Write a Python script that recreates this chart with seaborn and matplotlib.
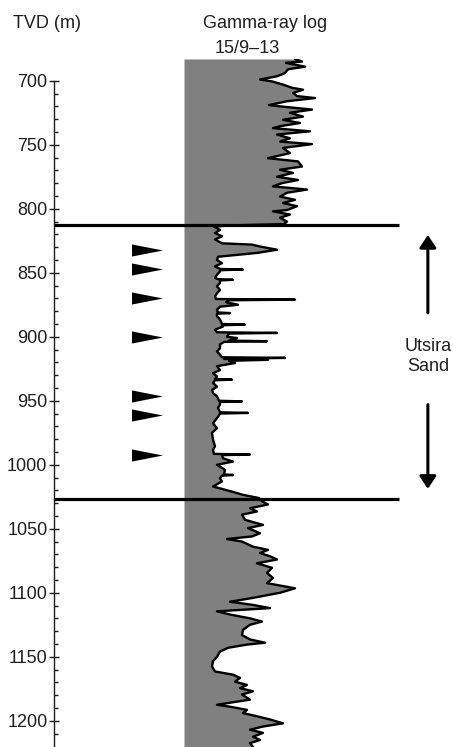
import numpy as np
import pandas as pd
import matplotlib
matplotlib.use("Agg")
import matplotlib.pyplot as plt
import seaborn as sns
from matplotlib.ticker import FixedLocator

# Gamma-ray log of well 15/9-13: true vertical depth (m) and gamma ray (API)
depth_upper = [683, 685, 686, 689, 691, 694, 696.5, 699, 700.5, 703, 705.5, 707,
               709.5, 712, 713.5, 716, 719, 720, 722.5, 725, 728, 730.5, 733, 735.5,
               737, 739.5, 742, 745, 747.5, 749.5, 752.5, 756.5, 760.5, 763, 767,
               769.5, 772, 775, 777.5, 780, 782.5, 785, 787.5, 790.5, 793, 795.5,
               798, 801, 802, 804.5, 807, 810, 812]
gamma_upper = [111, 118, 102, 121, 104, 101, 93, 76, 88, 99, 108, 119,
               109, 113, 131, 103, 85, 96, 128, 106, 119, 99, 116, 96,
               89, 126, 93, 106, 96, 128, 99, 106, 84, 114, 118,
               96, 109, 93, 114, 98, 89, 123, 103, 96, 111, 99,
               113, 103, 89, 106, 96, 103, 100]

depth_sand = [813, 814, 816.5, 819, 821.5, 824, 827, 828, 829.5, 831, 832, 833.5,
              834.5, 836, 837.5, 840, 842.5, 845, 847, 847.5, 848, 849, 851.5, 854,
              855, 855.5, 856, 858, 860.5, 863.5, 866, 868.5, 870.5, 871, 871.5,
              873, 875, 876.5, 879, 881, 881.5, 882, 884, 886.5, 890, 890.5, 891,
              892, 894.5, 896.5, 897, 897.5, 900, 901, 903, 903.5, 904, 906, 909,
              911.5, 914, 916, 916.5, 917.3, 918, 918.8, 920.5, 923, 926, 928.5, 931,
              933, 933.5, 934, 936, 939, 941.5, 944, 946.5, 950, 950.5, 951, 953,
              955.5, 959, 959.5, 960, 962.5, 967.5, 971.5, 975, 980.5, 985.5, 988.5,
              991.5, 992, 992.5, 995, 997.5, 1000, 1004, 1007.5, 1008, 1008.5, 1010.5,
              1013, 1017, 1021, 1023.5, 1026]
gamma_sand = [45, 30, 36, 31, 38, 31, 38, 68, 76, 86, 93, 81,
              73, 53, 34, 33, 38, 31, 36, 59, 36, 36, 33, 31,
              34, 49, 36, 36, 33, 36, 33, 31, 32, 111, 45,
              42, 54, 36, 33, 34, 46, 33, 33, 36, 38, 61, 38,
              39, 31, 33, 93, 45, 43, 53, 45, 83, 40, 36, 36,
              33, 36, 38, 101, 40, 84, 45, 51, 33, 36, 29, 33,
              31, 48, 31, 29, 33, 28, 29, 33, 35, 58, 36, 36,
              34, 36, 64, 36, 34, 29, 33, 28, 29, 31, 29,
              30, 66, 38, 39, 49, 33, 41, 40, 49, 38, 36,
              38, 29, 48, 59, 75]

depth_lower = [1028.5, 1031, 1034, 1036.5, 1039, 1043, 1047, 1049.5, 1053.5, 1056,
               1058, 1060, 1064, 1066.5, 1069, 1071.5, 1074, 1077, 1080.5, 1084.5,
               1088.5, 1092.5, 1096.5, 1100, 1104, 1107, 1109.5, 1112, 1114.5, 1117,
               1120, 1122.5, 1125, 1129, 1133, 1136.5, 1139, 1140.5, 1143, 1146,
               1150, 1153.5, 1157.5, 1161.5, 1164, 1166.5, 1169.5, 1172, 1174.5, 1177,
               1179.5, 1183.5, 1187.5, 1189, 1191.5, 1194, 1196.5, 1199, 1202, 1204.5,
               1207, 1209.5, 1212.5, 1215, 1217.5, 1220.5]
gamma_lower = [78, 84, 66, 73, 58, 61, 79, 64, 76, 68,
               43, 58, 69, 84, 76, 86, 93, 73, 88, 83,
               89, 83, 111, 96, 69, 46, 69, 86, 33, 46,
               66, 78, 66, 59, 58, 66, 81, 63, 44, 36,
               33, 29, 28, 31, 49, 56, 51, 63, 56, 69,
               58, 66, 33, 46, 63, 59, 73, 86, 99, 79,
               66, 79, 69, 76, 66, 69]

# Top and base of the Utsira Sand, and the depths flagged with markers
unit_boundaries = [812.5, 1026.8]
marker_depths = [832, 847, 870, 900.5, 946.5, 961.5, 992.5]
major_depths = list(range(700, 1201, 50))
minor_depths = [d for d in range(710, 1211, 10) if d % 50]

log = pd.DataFrame({
    "depth": depth_upper + depth_sand + depth_lower,
    "gamma": gamma_upper + gamma_sand + gamma_lower,
})

sns.set_theme(style="white")
plt.rcParams["font.family"] = ["Liberation Sans", "DejaVu Sans"]
ink = "#1e1e1e"

fig = plt.figure(figsize=(4.53, 7.47), dpi=100)
ax = fig.add_axes([54 / 453, 0, 399 / 453, 688 / 747])
ax.set_facecolor("none")

# Shaded gamma-ray track with the log trace on top
ax.fill_betweenx(log["depth"], 0, log["gamma"], color="#808080", lw=0, zorder=1)
sns.lineplot(data=log, x="gamma", y="depth", orient="y", sort=False, estimator=None,
             color="black", lw=1.7, ax=ax, zorder=2)

ax.set_xlim(-130, 269)
ax.set_ylim(1220.5, 683)
ax.set_xlabel("")
ax.set_ylabel("")

# Depth ruler on the left spine
for side in ("top", "right", "bottom"):
    ax.spines[side].set_visible(False)
ax.spines["left"].set_bounds(700, 1220.5)
ax.spines["left"].set_linewidth(1.0)
ax.spines["left"].set_color(ink)
ax.yaxis.set_major_locator(FixedLocator(major_depths))
ax.yaxis.set_minor_locator(FixedLocator(minor_depths))
ax.tick_params(axis="x", bottom=False, labelbottom=False)
ax.tick_params(axis="y", which="major", direction="inout", length=6.5, width=1.0,
               labelsize=13, pad=1.5, color=ink, labelcolor=ink, left=True)
ax.tick_params(axis="y", which="minor", direction="in", length=3.2, width=1.0,
               color=ink, left=True)

# Formation boundaries
for d in unit_boundaries:
    ax.axhline(d, xmin=0, xmax=0.8647, color="black", lw=2.3, zorder=5,
               solid_capstyle="butt")

# Flag markers
tri = [(-1, 0.39), (-1, -0.39), (1, 0), (-1, 0.39)]
ax.scatter(np.full(len(marker_depths), 0.2336), marker_depths, marker=tri, s=498,
           c="black", linewidths=0, transform=ax.get_yaxis_transform(), zorder=5,
           clip_on=False)

# Extent of the Utsira Sand
yx = ax.get_yaxis_transform()
arrow = dict(arrowstyle="-|>,head_length=0.75,head_width=0.5", mutation_scale=10,
             lw=2.2, color="black", shrinkA=0, shrinkB=0)
ax.annotate("", xy=(0.937, unit_boundaries[0] + 8), xytext=(0.937, 881.3),
            xycoords=yx, textcoords=yx, arrowprops=arrow)
ax.annotate("", xy=(0.937, unit_boundaries[1] - 8), xytext=(0.937, 953.1),
            xycoords=yx, textcoords=yx, arrowprops=arrow)
ax.text(0.937, 915.6, "Utsira\nSand", transform=yx, ha="center", va="center",
        fontsize=13, color=ink)

# Headings
fig.text(13.3 / 453, 1 - 28.3 / 747, "TVD (m)", ha="left", va="baseline",
         fontsize=13, color=ink)
fig.text(265 / 453, 1 - 28.3 / 747, "Gamma-ray log", ha="center", va="baseline",
         fontsize=13, color=ink)
fig.text(247.5 / 453, 1 - 53.3 / 747, "15/9\u201313", ha="center", va="baseline",
         fontsize=13, color=ink)

fig.savefig("out.png", dpi=100)
